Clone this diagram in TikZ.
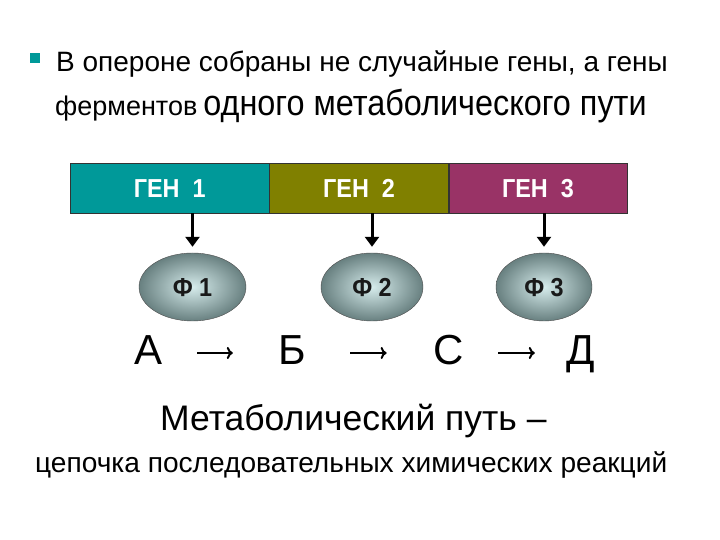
\documentclass[tikz,border=0pt]{standalone}
\usepackage{fontspec}
\setmainfont{Liberation Sans}
\newfontfamily\narrowfont[FakeStretch=0.9]{Liberation Sans}
\usetikzlibrary{positioning,shapes.geometric,arrows.meta}
\definecolor{genteal}{RGB}{0,153,153}
\definecolor{genolive}{RGB}{128,128,0}
\definecolor{genplum}{RGB}{153,51,102}
\definecolor{enzlight}{RGB}{214,236,236}
\definecolor{enzdark}{RGB}{104,128,128}
\newcommand{\ptsize}[1]{\fontsize{#1}{#1}\selectfont}
\begin{document}
\begin{tikzpicture}[x=1pt, y=1pt, auto, node distance=0pt,
		gene box/.style={draw=black!80, thin, minimum height=50pt, inner sep=0pt, text height=18.5pt, text depth=0pt, text=white, font=\narrowfont\bfseries\ptsize{26}},
		enzyme node/.style={ellipse, draw=black!70, thin, minimum height=68pt, inner sep=0pt, text height=18.5pt, text depth=0pt, inner color=enzlight, outer color=enzdark, font=\narrowfont\bfseries\ptsize{26}, text=black!90},
		gene arrow/.style={-{Triangle[length=10pt,width=14pt]}, line width=3pt, shorten >=6pt},
		substrate/.style={inner sep=0pt, minimum width=30pt, text height=30pt, text depth=6pt, font=\ptsize{42}},
		reaction/.style={-{To[length=6pt,width=12pt]}, line width=2pt},
		text line/.style={anchor=base west, inner sep=0pt}]
	
	\useasboundingbox (0,0) rectangle (720,540);
	
	\node[fill=genteal, minimum size=10pt, inner sep=0pt] (bullet) at (35,482) {};
	\node[text line, font=\ptsize{28}] (line1) at (56,468) {В опероне собраны не случайные гены, а гены};
	\node[text line] (line2) at (55,424) {{\ptsize{27}ферментов}\hspace{6pt}{\ptsize{36}\narrowfont одного метаболического пути}};
	
	\node[gene box, fill=genteal, minimum width=199pt, anchor=west] (g1) at (70,352) {ГЕН~~1};
	\node[gene box, fill=genolive, minimum width=179pt] (g2) [right=0pt of g1] {ГЕН~~2};
	\node[gene box, fill=genplum, minimum width=178pt] (g3) [right=0pt of g2] {ГЕН~~3};
	
	\node[enzyme node, minimum width=107pt] (f1) at (192.5,253) {Ф 1};
	\node[enzyme node, minimum width=102pt] (f2) at (372,253) {Ф 2};
	\node[enzyme node, minimum width=96pt] (f3) at (544,253) {Ф 3};
	
	\path[gene arrow]
	(f1 |- g1.south) edge (f1.north)
	(f2 |- g2.south) edge (f2.north)
	(f3 |- g3.south) edge (f3.north);
	
	\node[substrate] (sa) at (148.5,187) {А};
	\node[substrate] (sb) at (292.5,187) {Б};
	\node[substrate] (sc) at (448.5,187) {С};
	\node[substrate] (sd) at (580.5,187) {Д};
	
	\path[reaction]
	(sa) edge[shorten <=33.5pt, shorten >=44.5pt] (sb)
	(sb) edge[shorten <=42.5pt, shorten >=46.5pt] (sc)
	(sc) edge[shorten <=34.5pt, shorten >=30.5pt] (sd);
	
	\node[text line, font=\ptsize{35.5}] (pathway) at (160,109) {Метаболический путь –};
	\node[text line, font=\ptsize{28.1}] (chain) at (35,67) {цепочка последовательных химических реакций};
	
\end{tikzpicture}
\end{document}
